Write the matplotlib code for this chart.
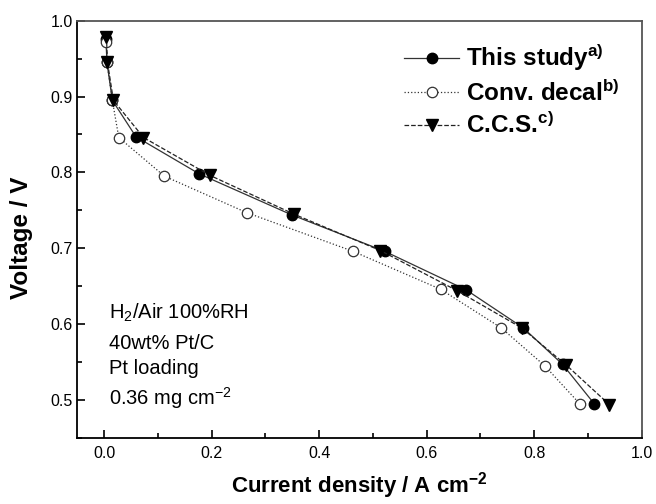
import matplotlib
matplotlib.use("Agg")
import matplotlib.pyplot as plt
from matplotlib.ticker import MultipleLocator

plt.rcParams['font.family'] = ['Liberation Sans', 'DejaVu Sans']
plt.rcParams['mathtext.fontset'] = 'custom'
plt.rcParams['mathtext.rm'] = 'Liberation Sans'
plt.rcParams['mathtext.bf'] = 'Liberation Sans:bold'
plt.rcParams['mathtext.it'] = 'Liberation Sans:italic'

# polarization curves
this_x = [0.003, 0.005, 0.015, 0.059, 0.177, 0.349, 0.522, 0.674, 0.780, 0.853, 0.912]
this_y = [0.976, 0.945, 0.895, 0.847, 0.798, 0.744, 0.696, 0.645, 0.595, 0.547, 0.495]

conv_x = [0.004, 0.005, 0.015, 0.027, 0.112, 0.265, 0.463, 0.626, 0.739, 0.820, 0.885]
conv_y = [0.972, 0.945, 0.895, 0.846, 0.795, 0.747, 0.696, 0.646, 0.595, 0.545, 0.495]

ccs_x = [0.004, 0.006, 0.017, 0.073, 0.197, 0.353, 0.514, 0.657, 0.777, 0.860, 0.940]
ccs_y = [0.979, 0.945, 0.895, 0.846, 0.796, 0.745, 0.697, 0.644, 0.595, 0.546, 0.494]

notes = [r'H$_2$/Air 100%RH', '40wt% Pt/C', 'Pt loading', r'0.36 mg cm$^{-2}$']
notes_y = [0.615, 0.575, 0.541, 0.502]

fig = plt.figure(figsize=(6.56, 5.04), dpi=100)
ax = fig.add_axes([0.118, 0.131, 0.860, 0.828])

ax.plot(this_x, this_y, '-', color='#333333', lw=0.9, marker='o', ms=7.5,
        mfc='black', mec='black', label=r'This study$^{\mathbf{a)}}$')
ax.plot(conv_x, conv_y, ':', color='#333333', lw=0.9, marker='o', ms=7.5,
        mfc='white', mec='#333333', mew=0.9, label=r'Conv. decal$^{\mathbf{b)}}$')
ax.plot(ccs_x, ccs_y, '--', color='#222222', lw=0.9, marker='v', ms=8.5,
        mfc='black', mec='black', label=r'C.C.S.$^{\mathbf{c)}}$')

ax.set_xlim(-0.05, 1.0)
ax.set_ylim(0.45, 1.0)
ax.xaxis.set_major_locator(MultipleLocator(0.2))
ax.xaxis.set_minor_locator(MultipleLocator(0.1))
ax.yaxis.set_major_locator(MultipleLocator(0.1))
ax.yaxis.set_minor_locator(MultipleLocator(0.05))
ax.tick_params(which='both', direction='in', labelsize=11.5, width=1.2)
ax.tick_params(which='major', length=6)
ax.tick_params(which='minor', length=3.5)
ax.tick_params(axis='x', pad=6)
ax.set_xticks([0.0, 0.2, 0.4, 0.6, 0.8, 1.0])
ax.set_xticklabels(['0.0', '0.2', '0.4', '0.6', '0.8', '1.0'])

for s in ax.spines.values():
    s.set_linewidth(1.3)
ax.spines['top'].set_color('#555555')
ax.spines['right'].set_color('#555555')

ax.set_xlabel(r'Current density / A cm$^{\mathbf{-2}}$', fontsize=16, fontweight='bold')
ax.xaxis.set_label_coords(0.5, -0.076)
ax.set_ylabel('Voltage / V', fontsize=17.5, fontweight='bold')
ax.yaxis.set_label_coords(-0.078, 0.479)

for t, yy in zip(notes, notes_y):
    ax.text(0.009, yy, t, fontsize=14.5, va='center', ha='left')

leg = ax.legend(loc='upper right', frameon=False, fontsize=17.5, handlelength=2.25,
                handletextpad=0.3, labelspacing=0.28, borderaxespad=0.5,
                bbox_to_anchor=(1.0, 1.0))
for txt in leg.get_texts():
    txt.set_fontweight('bold')

fig.savefig('out.png', dpi=100)
